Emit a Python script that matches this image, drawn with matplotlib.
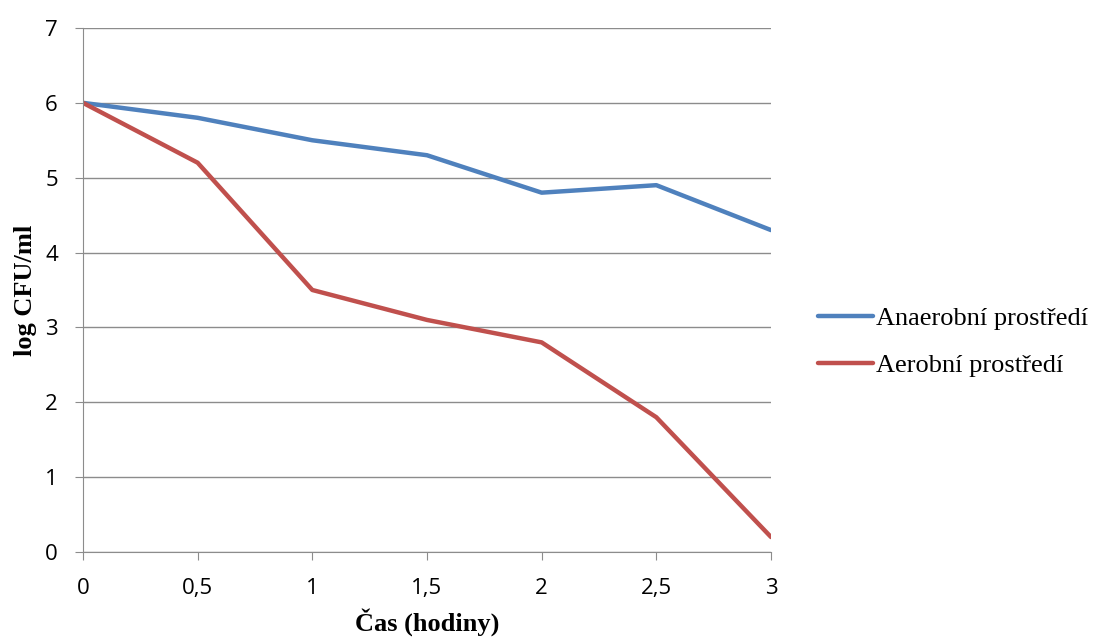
import matplotlib.pyplot as plt
from matplotlib.ticker import FuncFormatter

cas = [0, 0.5, 1, 1.5, 2, 2.5, 3]
anaerobni = [6, 5.8, 5.5, 5.3, 4.8, 4.9, 4.3]
aerobni = [6, 5.2, 3.5, 3.1, 2.8, 1.8, 0.2]
labels = ['Anaerobní prostředí', 'Aerobní prostředí']

fig = plt.figure(figsize=(10.93, 6.4), dpi=100)
ax = fig.add_axes([0.0759, 0.1375, 0.6295, 0.8188])

ax.plot(cas, anaerobni, color='#4F81BD', lw=3.2, label=labels[0], solid_capstyle='round')
ax.plot(cas, aerobni, color='#C0504D', lw=3.2, label=labels[1], solid_capstyle='round')

ax.set_xlim(0, 3)
ax.set_ylim(0, 7)
ax.set_xticks(cas)
ax.set_yticks(range(8))
ax.xaxis.set_major_formatter(FuncFormatter(lambda v, p: f'{v:g}'.replace('.', ',')))
ax.yaxis.grid(True, color='#8C8C8C', lw=1)
ax.set_axisbelow(True)

for s in ['top', 'right']:
    ax.spines[s].set_visible(False)
for s in ['left', 'bottom']:
    ax.spines[s].set_color('#8C8C8C')
ax.tick_params(axis='both', colors='#8C8C8C', length=6, labelcolor='black',
               labelsize=16)
ax.tick_params(axis='x', pad=13)
ax.tick_params(axis='y', pad=12)
for t in ax.get_xticklabels() + ax.get_yticklabels():
    t.set_fontfamily('Open Sans')

ax.set_xlabel('Čas (hodiny)', fontfamily='Liberation Serif', fontweight='bold', fontsize=19, labelpad=6)
ax.set_ylabel('log CFU/ml', fontfamily='Liberation Serif', fontweight='bold', fontsize=19, labelpad=6)

fig.legend(loc='center left', bbox_to_anchor=(0.7484, 0.466), frameon=False,
           prop={'family': 'Liberation Serif', 'size': 19}, handlelength=2.1,
           handletextpad=0.1, labelspacing=0.9, borderpad=0, borderaxespad=0)

fig.savefig('out.png', dpi=100)
